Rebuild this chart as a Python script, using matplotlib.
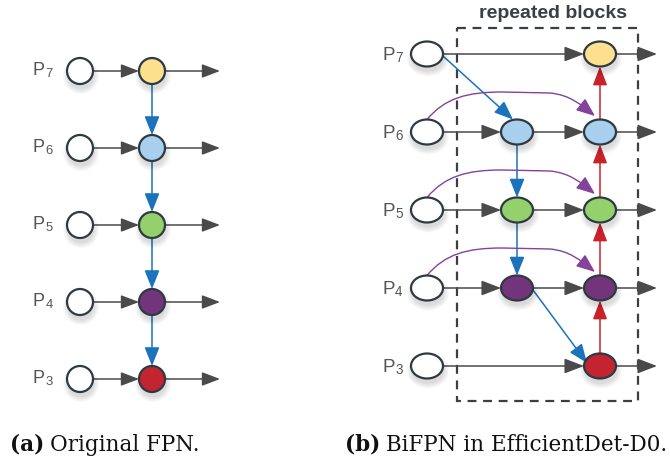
import numpy as np
import matplotlib.pyplot as plt
from matplotlib.patches import Ellipse, Rectangle, FancyArrowPatch
from matplotlib.path import Path

# feature levels, top to bottom, and their node fill colours
levels = ["7", "6", "5", "4", "3"]
node_colors = ["#fde08e", "#a8cfee", "#94d06c", "#72357b", "#c3242f"]

# BiFPN: levels with an intermediate top-down node and with a skip connection
mid_levels = ["6", "5", "4"]
skip_levels = ["6", "5", "4"]
# top-down (blue) edges as (level, column) -> (level, column)
topdown = [(("7", "in"), ("6", "mid")), (("6", "mid"), ("5", "mid")),
           (("5", "mid"), ("4", "mid")), (("4", "mid"), ("3", "out"))]
# bottom-up (red) edges between output nodes
bottomup = [("3", "4"), ("4", "5"), ("5", "6"), ("6", "7")]

captions = [("(a)", "Original FPN."), ("(b)", "BiFPN in EfficientDet-D0.")]

GRAY = "#4a4a4a"
BLUE = "#1b74bb"
RED = "#c8232c"
PURPLE = "#84429a"
EDGE = "#2e3a42"

fig = plt.figure(figsize=(6.7, 4.6), dpi=100)
ax = fig.add_axes([0, 0, 1, 1])
ax.set_xlim(0, 670)
ax.set_ylim(460, 0)
ax.axis("off")


def node(x, y, w, h, fc):
    # soft shadow
    for k in range(6):
        ax.add_patch(Ellipse((x + 1, y + 5), w + 2 * k, h + 2 * k,
                             color="black", alpha=0.025, lw=0, zorder=3))
    ax.add_patch(Ellipse((x, y), w, h, fc=fc, ec=EDGE, lw=1.6, zorder=4))


def arrow(p0, p1, color, hl=11, hw=4.2, lw=1.1, path=None):
    style = f"-|>,head_length={hl},head_width={hw}"
    if path is not None:
        a = FancyArrowPatch(path=path, arrowstyle=style, mutation_scale=1,
                            color=color, lw=lw, zorder=2)
    else:
        a = FancyArrowPatch(p0, p1, arrowstyle=style, mutation_scale=1,
                            color=color, lw=lw, shrinkA=0, shrinkB=0, zorder=2)
    ax.add_patch(a)


def label(x, y, lev, size):
    t = ax.text(x, y, "P", fontsize=size, color="#555555",
                family="Liberation Sans", ha="left", va="center")
    ax.annotate(lev, xy=(1, 0), xycoords=t, xytext=(0.5, -0.6),
                textcoords="offset points", fontsize=size * 0.72,
                color="#555555", family="Liberation Sans", ha="left", va="bottom")


# ---- (a) original FPN ----
ly0, lstep, r = 72, 77, 13
xin, xc, xend = 80, 152, 220
for i, lev in enumerate(levels):
    y = ly0 + i * lstep
    label(33, y - 1.5, lev, 13)
    node(xin, y, 2 * r, 2 * r, "white")
    node(xc, y, 2 * r, 2 * r, node_colors[i])
    arrow((xin + r, y), (xc - r, y), GRAY)
    arrow((xc + r, y), (xend, y), GRAY)
    if i > 0:
        arrow((xc, y - lstep + r), (xc, y - r), BLUE, hl=11.5, hw=4.6)

# ---- (b) BiFPN ----
ry0, rstep = 55, 78
ew, eh = 32, 25
cols = {"in": 427, "mid": 517, "out": 600}
xout = 657
rowy = {lev: ry0 + i * rstep for i, lev in enumerate(levels)}

ax.add_patch(Rectangle((457, 29), 181, 373, fill=False, ec="#3a3f44",
                       lw=1.6, ls=(0, (4, 3)), zorder=1))
ax.text(553, 13, "repeated blocks", fontsize=14, fontweight="bold",
        color="#3a3f44", family="Liberation Sans", ha="center", va="center")

for i, lev in enumerate(levels):
    y = rowy[lev]
    label(382, y + 1, lev, 13.5)
    node(cols["in"], y, ew, eh, "white")
    node(cols["out"], y, ew, eh, node_colors[i])
    arrow((cols["out"] + ew / 2, y), (xout, y), GRAY, hl=12, hw=4.6)
    if lev in mid_levels:
        node(cols["mid"], y, ew, eh, node_colors[i])
        arrow((cols["in"] + ew / 2, y), (cols["mid"] - ew / 2, y), GRAY, hl=12, hw=4.6)
        arrow((cols["mid"] + ew / 2, y), (cols["out"] - ew / 2, y), GRAY, hl=12, hw=4.6)
    else:
        arrow((cols["in"] + ew / 2, y), (cols["out"] - ew / 2, y), GRAY, hl=12, hw=4.6)

for (la, ca), (lb, cb) in topdown:
    xa, ya = cols[ca], rowy[la]
    xb, yb = cols[cb], rowy[lb]
    if xa == xb:
        p0, p1 = (xa, ya + eh / 2), (xb, yb - eh / 2)
    else:
        p0 = (xa + ew / 2, ya + 2)
        p1 = (xb - 13, yb - 3) if cb == "out" else (xb - 4, yb - eh / 2)
    arrow(p0, p1, BLUE, hl=11.5, hw=4.6)

for la, lb in bottomup:
    x = cols["out"]
    arrow((x, rowy[la] - eh / 2), (x, rowy[lb] + eh / 2), RED, hl=11.5, hw=4.4)

for lev in skip_levels:
    y = rowy[lev]
    x0 = cols["in"]
    verts = [(x0, y - eh / 2),
             (x0 + 18, y - 34), (x0 + 40, y - 40), (x0 + 75, y - 40),
             (x0 + 123, y - 39),
             (x0 + 143, y - 37), (x0 + 153, y - 28), (x0 + 168, y - 16)]
    codes = [Path.MOVETO, Path.CURVE4, Path.CURVE4, Path.CURVE4,
             Path.LINETO, Path.CURVE4, Path.CURVE4, Path.CURVE4]
    arrow(None, None, PURPLE, hl=11.5, hw=4.6, lw=1.0, path=Path(verts, codes))

# ---- captions ----
for (tag, txt), x in zip(captions, [10, 345]):
    t = ax.text(x, 451, tag, fontsize=15.5, fontweight="bold", color="#111111",
                family="DejaVu Serif", ha="left", va="baseline")
    ax.annotate(txt, xy=(1, 0), xycoords=t, xytext=(4, 0),
                textcoords="offset points", fontsize=15.5, color="#111111",
                family="DejaVu Serif", ha="left", va="bottom")

fig.savefig("out.png", dpi=100)
